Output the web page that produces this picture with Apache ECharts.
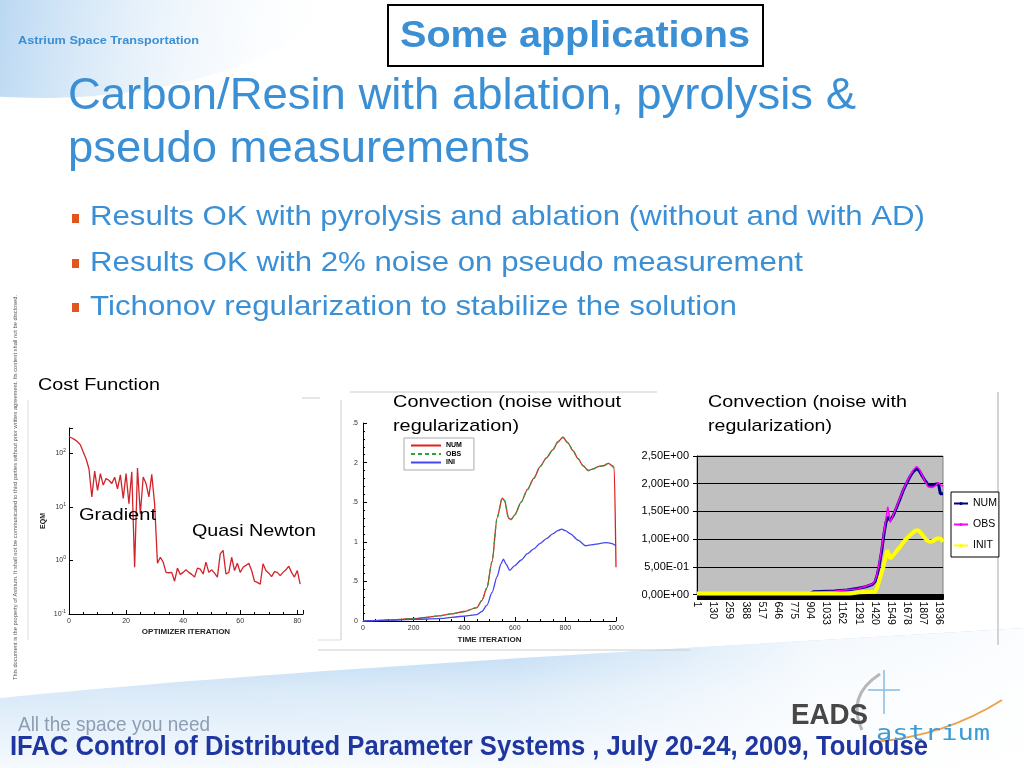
<!DOCTYPE html>
<html><head><meta charset="utf-8">
<script src="https://cdn.jsdelivr.net/npm/echarts/dist/echarts.min.js"></script>
<style>html,body{margin:0;padding:0;background:#fff}#c{width:1024px;height:768px}</style>
</head><body><div id="c"></div><script>
// ---------- Chart 1: cost function (EQM vs optimizer iteration) ----------
const costEQM = [204,195,182,166,145,107,79,52,15.5,47,20.4,42,25.7,34,31.6,27.5,36,21.9,39.8,14.5,
  42,11.5,45.7,0.75,53.7,7.5,36.3,27.5,15.5,40.7,11.5,0.89,1.15,0.93,0.6,0.59,0.6,0.41,0.72,0.55,
  0.6,0.67,0.6,0.55,0.49,0.72,0.69,0.56,0.93,0.6,0.67,0.58,0.49,1.33,1.55,0.56,0.6,1.15,0.65,0.89,
  0.6,0.75,0.81,0.89,0.65,0.41,0.39,0.36,0.87,0.65,0.58,0.5,0.62,0.6,0.52,0.6,0.67,0.78,0.6,0.49,0.65,0.36];
const costXTicks = [0,20,40,60,80];

// ---------- Chart 2: convection, noise without regularization ----------
const noRegT   = [0,50,100,150,200,250,300,350,400,450,470,490,510,530,550,560,575,585,600,625,650,675,700,725,750,770,790,810,830,850,870,890,910,930,950,970,985,993,1000];
const noRegNUM = [0,0.005,0.01,0.02,0.03,0.045,0.065,0.09,0.12,0.17,0.26,0.42,0.75,1.3,1.55,1.52,1.3,1.28,1.34,1.5,1.66,1.8,1.95,2.06,2.16,2.26,2.32,2.25,2.15,2.05,1.96,1.9,1.92,1.95,1.96,1.99,1.96,1.93,0.68];
const noRegOBS = [0,0.005,0.01,0.02,0.03,0.045,0.065,0.09,0.12,0.17,0.26,0.42,0.75,1.3,1.55,1.52,1.3,1.28,1.34,1.5,1.66,1.8,1.95,2.06,2.16,2.26,2.32,2.25,2.15,2.05,1.96,1.9,1.92,1.95,1.96,1.99,1.96,1.93,1.9];
const noRegIniT = [0,100,200,300,400,450,470,490,510,530,545,555,565,580,600,625,650,675,700,725,750,770,785,800,820,850,880,900,920,940,960,980,1000];
const noRegINI  = [0,0.01,0.02,0.03,0.06,0.08,0.12,0.2,0.36,0.56,0.72,0.78,0.72,0.64,0.7,0.77,0.85,0.91,0.98,1.04,1.1,1.14,1.16,1.14,1.1,1.02,0.95,0.96,0.97,0.98,0.99,0.98,0.95];
const noRegYLabels = ['0','.5','1','.5','2','.5'];

// ---------- Chart 3: convection, noise with regularization ----------
const regCount = 1966;
const regN   = [1,900,930,1100,1200,1280,1350,1400,1424,1440,1455,1477,1495,1510,1525,1545,1570,1597,1625,1650,1680,1703,1730,1755,1775,1800,1825,1850,1880,1905,1930,1945,1955,1966];
const regNUM = [0,0.01,0.05,0.065,0.08,0.11,0.14,0.18,0.23,0.35,0.5,0.8,1.1,1.3,1.4,1.34,1.43,1.58,1.74,1.89,2.03,2.13,2.22,2.27,2.24,2.14,2.05,1.97,1.97,1.99,2.0,1.82,1.8,1.82];
const regOBS = [0,0.01,0.04,0.06,0.085,0.1,0.15,0.19,0.25,0.38,0.55,0.85,1.15,1.35,1.58,1.3,1.45,1.6,1.76,1.9,2.05,2.15,2.25,2.31,2.27,2.15,2.03,1.94,1.93,1.96,2.02,1.98,1.97,1.95];
const regIniN = [1,1224,1300,1424,1440,1450,1470,1490,1510,1522,1544,1570,1600,1623,1660,1703,1743,1765,1783,1810,1836,1863,1890,1916,1947,1966];
const regINIT = [0.02,0.02,0.04,0.05,0.12,0.2,0.35,0.5,0.7,0.8,0.65,0.71,0.8,0.86,0.97,1.07,1.15,1.16,1.13,1.05,0.98,0.95,0.97,1.01,1.01,0.95];
const regYLabels = ['0,00E+00','5,00E-01','1,00E+00','1,50E+00','2,00E+00','2,50E+00'];
const regCats = [];
for (let i = 1; i <= regCount; i++) regCats.push(String(i));

// ---------- helpers ----------
const FF = '"Liberation Sans", Arial, Helvetica, sans-serif';
const mctx = document.createElement('canvas').getContext('2d');
function T(text, x, yMid, size, width, opts) {
  opts = opts || {};
  const weight = opts.weight || 'normal';
  const family = opts.family || FF;
  const font = weight + ' ' + size + 'px ' + family;
  mctx.font = font;
  const w = mctx.measureText(text).width;
  const sx = width ? width / w : 1;
  return {
    type: 'text', x: x, y: yMid, scaleX: sx, scaleY: 1, rotation: opts.rotation || 0, z: 100,
    style: { text: text, x: 0, y: 0, font: font, fill: opts.color || '#000',
      align: 'left', verticalAlign: 'middle', textAlign: 'left', textVerticalAlign: 'middle' }
  };
}
function L(x1, y1, x2, y2, color, w) {
  return { type: 'line', z: 1, shape: { x1, y1, x2, y2 }, style: { stroke: color, lineWidth: w || 1 } };
}
function Q(x1, y1, cx, cy, x2, y2, color, w) {
  return { type: 'bezierCurve', z: 5, shape: { x1, y1, cpx1: cx, cpy1: cy, x2, y2 }, style: { stroke: color, lineWidth: w, fill: null } };
}
// bottom swoosh outline (cubic bezier sampled into a polygon)
function swoosh() {
  const p0 = [0, 698], p1 = [300, 668], p2 = [700, 648], p3 = [1024, 628], pts = [];
  for (let k = 0; k <= 40; k++) {
    const t = k / 40, u = 1 - t;
    pts.push([u*u*u*p0[0] + 3*u*u*t*p1[0] + 3*u*t*t*p2[0] + t*t*t*p3[0],
              u*u*u*p0[1] + 3*u*u*t*p1[1] + 3*u*t*t*p2[1] + t*t*t*p3[1]]);
  }
  pts.push([1024, 768], [0, 768]);
  return pts;
}
const BLUE = '#3b8fd4';
const swPts = swoosh();

const graphics = [
  { type: 'ellipse', z: -50, shape: { cx: 40, cy: -60, rx: 330, ry: 158 },
    style: { fill: { type: 'linear', x: 0, y: 0, x2: 1, y2: 0.3, colorStops: [
      { offset: 0, color: '#8cbde9' }, { offset: 0.45, color: '#b3d4f1' }, { offset: 1, color: 'rgba(255,255,255,0)' }] } } },
  { type: 'polygon', z: -50, shape: { points: swPts },
    style: { fill: { type: 'linear', x: 0, y: 0, x2: 0, y2: 1, colorStops: [
      { offset: 0, color: '#a9cff0' }, { offset: 0.45, color: '#d8e9f8' }, { offset: 1, color: '#f6fafe' }] } } },
  { type: 'polygon', z: -49, shape: { points: swPts },
    style: { fill: { type: 'linear', x: 0, y: 0, x2: 1, y2: 0, colorStops: [
      { offset: 0, color: 'rgba(255,255,255,0)' }, { offset: 0.5, color: 'rgba(255,255,255,0.15)' }, { offset: 0.8, color: 'rgba(255,255,255,0.85)' }, { offset: 1, color: 'rgba(255,255,255,0.95)' }] } } },
  { type: 'rect', z: 5, shape: { x: 388, y: 5, width: 375, height: 61 }, style: { fill: '#fff', stroke: '#000', lineWidth: 2 } },
  { type: 'rect', z: 5, shape: { x: 72, y: 214, width: 7, height: 9 }, style: { fill: '#e0561c' } },
  { type: 'rect', z: 5, shape: { x: 72, y: 259, width: 7, height: 9 }, style: { fill: '#e0561c' } },
  { type: 'rect', z: 5, shape: { x: 72, y: 303, width: 7, height: 9 }, style: { fill: '#e0561c' } },
  L(28, 400, 28, 640, '#dddddd'), L(302, 398, 320, 398, '#cccccc'), L(341, 400, 341, 640, '#cccccc'), L(318, 640, 341, 640, '#dddddd'),
  L(350, 392, 657, 392, '#cccccc'), L(318, 650, 690, 650, '#cccccc'), L(998, 392, 998, 645, '#aaaaaa'),
  Q(880, 674, 846, 696, 862, 730, '#b8b8b8', 3),
  L(884, 670, 884, 714, '#86bde3', 1.5), L(868, 690, 900, 690, '#86bde3', 1.5),
  Q(874, 742, 945, 736, 1002, 700, '#f0a04b', 2),

  T('Astrium Space Transportation', 18, 41, 11, 181, { weight: 'bold', color: BLUE }),
  T('Some applications', 400, 37, 37, 350, { weight: 'bold', color: BLUE }),
  T('Carbon/Resin with ablation, pyrolysis &', 68, 97, 44, 788, { color: BLUE }),
  T('pseudo measurements', 68, 150, 44, 462, { color: BLUE }),
  T('Results OK with pyrolysis and ablation (without and with AD)', 90, 217, 28, 835, { color: BLUE }),
  T('Results OK with 2% noise on pseudo measurement', 90, 263, 28, 713, { color: BLUE }),
  T('Tichonov regularization to stabilize the solution', 90, 307, 28, 647, { color: BLUE }),
  T('Cost Function', 38, 385, 17, 122),
  T('Convection (noise without', 393, 402, 17, 228),
  T('regularization)', 393, 426, 17, 126),
  T('Convection (noise with', 708, 402, 17, 199),
  T('regularization)', 708, 426, 17, 124),
  T('Gradient', 79, 515, 17, 77),
  T('Quasi Newton', 192, 531, 17, 124),
  T('This document is the property of Astrium. It shall not be communicated to third parties without prior written agreement. Its content shall not be disclosed.', 16, 680, 5, 385, { color: '#555', rotation: Math.PI / 2 }),
  T('All the space you need', 18, 725, 21, 192, { color: '#8d9db2' }),
  T('EADS', 791, 716, 30, 77, { weight: 'bold', color: '#474747' }),
  T('astrium', 876, 735, 21, 114, { color: '#3d9bd8', family: '"DejaVu Sans Mono", monospace' }),
  T('IFAC Control of Distributed Parameter Systems , July 20-24, 2009, Toulouse', 10, 748, 27, 918, { weight: 'bold', color: '#1f36a0' })
];

const axisTxt = { fontSize: 7, color: '#333', fontFamily: FF };
const chart = echarts.init(document.getElementById('c'), null, { renderer: 'canvas' });
chart.setOption({
  animation: false,
  backgroundColor: '#ffffff',
  graphic: { elements: graphics },
  grid: [
    { left: 69, top: 428, width: 234, height: 186, outerBoundsMode: 'none' },
    { left: 363, top: 423, width: 253, height: 198, outerBoundsMode: 'none' },
    { left: 697, top: 456, width: 246, height: 138.5, outerBoundsMode: 'none', show: true, backgroundColor: '#c0c0c0', borderColor: '#808080', borderWidth: 1 }
  ],
  legend: [
    { data: ['NUM', 'OBS', 'INI'], left: 404, top: 438, orient: 'vertical', itemWidth: 30, itemHeight: 6, itemGap: 1.5,
      padding: [4, 12, 4, 6], backgroundColor: '#fff', borderColor: '#aaa', borderWidth: 1, borderRadius: 0,
      itemStyle: { color: 'rgba(0,0,0,0)', borderWidth: 0, opacity: 0 },
      textStyle: { fontSize: 7, fontWeight: 'bold', color: '#000', fontFamily: FF }, selectedMode: false },
    { data: ['NUM_r', 'OBS_r', 'INIT_r'], left: 951, top: 492, orient: 'vertical', itemWidth: 14, itemHeight: 4, itemGap: 10,
      itemTextGap: 3, padding: [6, 2, 6, 2], backgroundColor: '#fff', borderColor: '#000', borderWidth: 1, borderRadius: 0,
      formatter: n => n.replace('_r', ''), textStyle: { fontSize: 10.5, color: '#000', fontFamily: FF }, selectedMode: false }
  ],
  xAxis: [
    { gridIndex: 0, type: 'value', min: 0, max: 82, interval: 20, splitLine: { show: false },
      axisLine: { lineStyle: { color: '#000', width: 1 } }, axisTick: { inside: true, length: 4, lineStyle: { color: '#000' } },
      minorTick: { show: true, splitNumber: 4, length: 2, lineStyle: { color: '#000' } },
      axisLabel: Object.assign({ margin: 4, showMaxLabel: false, formatter: v => costXTicks.indexOf(v) >= 0 ? String(v) : '' }, axisTxt),
      name: 'OPTIMIZER ITERATION', nameLocation: 'middle', nameGap: 14,
      nameTextStyle: { fontSize: 8, fontWeight: 'bold', color: '#222', fontFamily: FF } },
    { gridIndex: 1, type: 'value', min: 0, max: 1000, interval: 200, splitLine: { show: false },
      axisLine: { lineStyle: { color: '#000', width: 1 } }, axisTick: { inside: true, length: 4, lineStyle: { color: '#000' } },
      minorTick: { show: true, splitNumber: 4, length: 2, lineStyle: { color: '#000' } },
      axisLabel: Object.assign({ margin: 4, formatter: v => String(v) }, axisTxt),
      name: 'TIME ITERATION', nameLocation: 'middle', nameGap: 15,
      nameTextStyle: { fontSize: 8, fontWeight: 'bold', color: '#222', fontFamily: FF } },
    { gridIndex: 2, type: 'category', data: regCats, boundaryGap: false,
      axisLine: { lineStyle: { color: '#000', width: 1 } },
      axisTick: { show: true, interval: 0, length: 5, lineStyle: { color: '#000', width: 1 } },
      axisLabel: { interval: 128, rotate: -90, margin: 7, fontSize: 10.5, color: '#000', fontFamily: FF },
      splitLine: { show: false } }
  ],
  yAxis: [
    { gridIndex: 0, type: 'log', logBase: 10, min: 0.1, max: 300, splitLine: { show: false },
      axisLine: { show: true, lineStyle: { color: '#000', width: 1 } }, axisTick: { show: true, inside: true, length: 4, lineStyle: { color: '#000' } },
      axisLabel: { margin: 3, fontSize: 7, color: '#333', fontFamily: FF,
        formatter: v => { const e = Math.log10(v), r = Math.round(e); return Math.abs(e - r) > 0.01 ? '' : '10{s|' + r + '}'; },
        rich: { s: { fontSize: 5, color: '#333', padding: [0, 0, 5, 0] } } },
      name: 'EQM', nameLocation: 'middle', nameGap: 22, nameRotate: 90,
      nameTextStyle: { fontSize: 7, fontWeight: 'bold', color: '#222', fontFamily: FF } },
    { gridIndex: 1, type: 'value', min: 0, max: 2.5, interval: 0.5, splitLine: { show: false },
      axisLine: { show: true, lineStyle: { color: '#000', width: 1 } }, axisTick: { show: true, inside: true, length: 4, lineStyle: { color: '#000' } },
      minorTick: { show: true, splitNumber: 5, length: 2, lineStyle: { color: '#000' } },
      axisLabel: Object.assign({ margin: 5, formatter: v => noRegYLabels[Math.round(v / 0.5)] }, axisTxt) },
    { gridIndex: 2, type: 'value', min: 0, max: 2.5, interval: 0.5,
      splitLine: { show: true, lineStyle: { color: '#000', width: 1 } },
      axisLine: { show: true, lineStyle: { color: '#000', width: 1 } }, axisTick: { show: true, length: 4, lineStyle: { color: '#000' } },
      axisLabel: { margin: 8, fontSize: 11, color: '#000', fontFamily: FF, formatter: v => regYLabels[Math.round(v / 0.5)] } }
  ],
  series: [
    { type: 'line', xAxisIndex: 0, yAxisIndex: 0, symbol: 'none', data: costEQM.map((v, i) => [i, v]),
      lineStyle: { color: '#d2232a', width: 1.3 }, itemStyle: { color: '#d2232a' } },
    { name: 'NUM', type: 'line', xAxisIndex: 1, yAxisIndex: 1, symbol: 'none', smooth: 0.25, smoothMonotone: 'x',
      data: noRegT.map((t, i) => [t, noRegNUM[i]]), lineStyle: { color: '#e0201c', width: 1.3 }, itemStyle: { color: '#e0201c' } },
    { name: 'OBS', type: 'line', xAxisIndex: 1, yAxisIndex: 1, symbol: 'none', smooth: 0.25, smoothMonotone: 'x',
      data: noRegT.map((t, i) => [t, noRegOBS[i]]), lineStyle: { color: '#2ea043', width: 1.3, type: [4, 3] }, itemStyle: { color: '#2ea043' } },
    { name: 'INI', type: 'line', xAxisIndex: 1, yAxisIndex: 1, symbol: 'none', smooth: 0.25, smoothMonotone: 'x',
      data: noRegIniT.map((t, i) => [t, noRegINI[i]]), lineStyle: { color: '#4646f0', width: 1.3 }, itemStyle: { color: '#4646f0' } },
    { name: 'NUM_r', type: 'line', xAxisIndex: 2, yAxisIndex: 2, symbol: 'none',
      data: regN.map((n, i) => [n - 1, regNUM[i]]), lineStyle: { color: '#000080', width: 3 }, itemStyle: { color: '#000080' } },
    { name: 'OBS_r', type: 'line', xAxisIndex: 2, yAxisIndex: 2, symbol: 'none',
      data: regN.map((n, i) => [n - 1, regOBS[i]]), lineStyle: { color: '#ff00ff', width: 1.5 }, itemStyle: { color: '#ff00ff' } },
    { name: 'INIT_r', type: 'line', xAxisIndex: 2, yAxisIndex: 2, symbol: 'none',
      data: regIniN.map((n, i) => [n - 1, regINIT[i]]), lineStyle: { color: '#ffff00', width: 4 }, itemStyle: { color: '#ffff00' } }
  ]
});
</script></body></html>
